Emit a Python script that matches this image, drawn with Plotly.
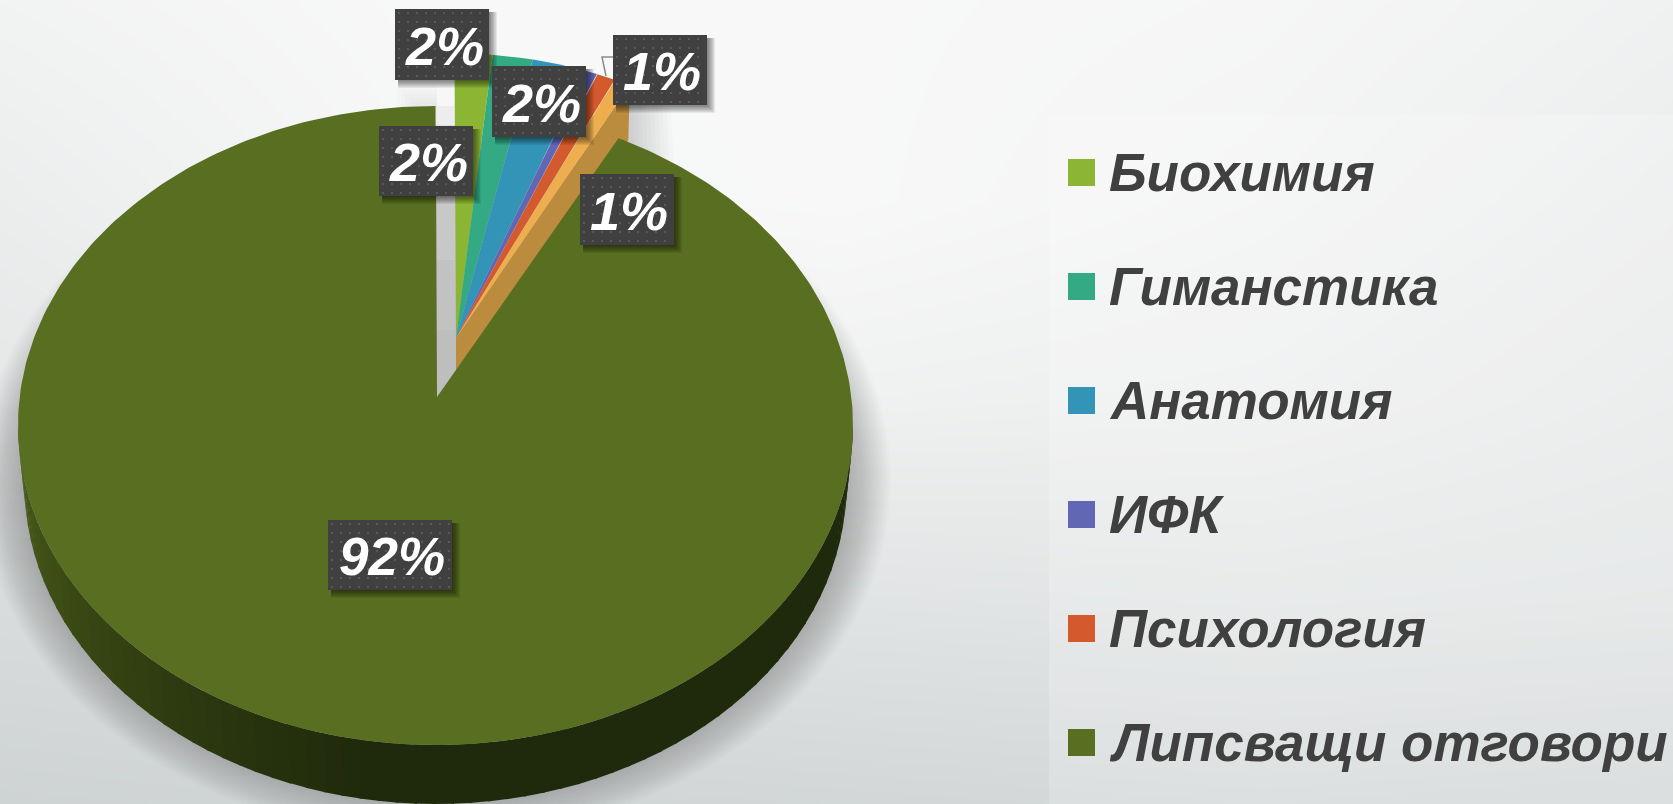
import math
import plotly.graph_objects as go

# ---- data ----
categories = ["Биохимия", "Гиманстика", "Анатомия", "ИФК", "Психология", "(без етикет)", "Липсващи отговори"]
values = [1.6, 1.7, 2.3, 0.5, 0.8, 0.7, 92.4]
pct_labels = ["2%", "2%", "2%", "1%", "1%", None, "92%"]
in_legend = [True, True, True, True, True, False, True]
colors = ["#8DB534", "#33A984", "#3494B8", "#6166B5", "#D4592C", "#EEAE4E", "#586E20"]

# ---- geometry and style ----
W, H = 1673, 804
BIG = dict(ax=437, ay=397, cx=435.5, cy=425.5, rx=417.5, ry=319.5)
SMALL = dict(ax=456, ay=338, cx=454.5, cy=366.5, rx=400, ry=313)
FORESHORTEN = 0.95
DEPTH = 59
WALL_ORANGE = "#BB8B3E"
LABEL_BG = "#404040"
TEXT = "#404040"
FONT = "Liberation Sans"
label_boxes = [(395, 9, 94, 71), (492, 66, 94, 71), (379, 126, 94, 70), (613, 35, 94, 70), (580, 174, 94, 71), None, (328, 520, 124, 70)]
label_sizes = [54, 54, 54, 54, 54, None, 53]
bg_x = [0, 420, 840, 1260, 1673]
bg_y = [0, 200, 400, 600, 804]
bg_z = [[242, 248, 248, 246, 240],
        [236, 246, 248, 243, 236],
        [230, 236, 240, 238, 232],
        [218, 222, 226, 228, 226],
        [208, 210, 212, 214, 212]]

fig = go.Figure()


def poly(xs, ys, color, name=None):
    fig.add_trace(go.Scatter(x=xs, y=ys, mode="lines", fill="toself", fillcolor=color,
                             line=dict(width=0), hoverinfo="skip" if name is None else "text",
                             text=name, showlegend=False))


def rim(g, t0, t1, n=120, grow=0.0, dy=0.0):
    ts = [t0 + (t1 - t0) * i / n for i in range(n + 1)]
    return ([g["cx"] + (g["rx"] + grow) * math.sin(t) for t in ts],
            [g["cy"] + dy - (g["ry"] + grow) * math.cos(t) for t in ts])


def mix(a, b, f):
    return "rgb(%d,%d,%d)" % tuple(a[i] + (b[i] - a[i]) * f for i in range(3))


# background
fig.add_trace(go.Heatmap(x=bg_x, y=bg_y, z=bg_z, zsmooth="best", showscale=False, hoverinfo="skip",
                         colorscale=[[0, "rgb(203,208,209)"], [1, "rgb(250,250,250)"]], zmin=205, zmax=250))
# legend panel
poly([1049, W, W, 1049], [115, 115, H, H], "rgba(255,255,255,0.2)")

# angles from the values
total = sum(values)
angles = []
acc = 0.0
for v in values:
    a0 = acc / total * 2 * math.pi * FORESHORTEN
    acc += v
    a1 = acc / total * 2 * math.pi * FORESHORTEN
    angles.append((a0, a1))
big_start = angles[-1][0]
big_end = 2 * math.pi

# soft shadow below the pie
for grow in range(44, -2, -2):
    x, y = rim(BIG, 0, 2 * math.pi, 180, grow=grow - 6, dy=DEPTH - 4)
    poly(x, y, "rgba(40,44,46,0.014)")
# soft shadow behind the wedge wall
for grow in range(40, 0, -4):
    poly([600, 630 + grow, 630 + grow * 1.1, 600], [108 - grow / 3, 108 - grow / 3, 150 + grow / 3, 175 + grow / 3],
         "rgba(0,0,0,0.014)")
for grow in range(20, 0, -4):
    poly([417 - grow, 437, 437, 417 - grow], [106 - grow, 106 - grow, 170, 170], "rgba(0,0,0,0.012)")

# side wall of the big slice, painted in strips
LOWER = dict(BIG, rx=411)
left = (78, 98, 28)
right = (31, 41, 11)
N = 70
for i in range(N):
    t0 = math.pi / 2 + math.pi * i / N
    t1 = math.pi / 2 + math.pi * (i + 1.15) / N
    xu, yu = rim(BIG, t0, t1, 3)
    xl, yl = rim(LOWER, t1, t0, 3, dy=DEPTH)
    poly(xu + xl, yu + yl, mix(left, right, min(1, (N - 1 - i) / (N * 0.45)) ** 0.8))

# grey cut face of the big slice
grey_stops = [106, 125, 150, 190, 260, 330]
grey_cols = ["#EDEDED", "#DEDEDE", "#D0D0D0", "#C8C8C8", "#C2C2C2", "#BEBEBE"]
for j, top in enumerate(grey_stops):
    bottom = grey_stops[j + 1] if j + 1 < len(grey_stops) else 400
    poly([437, 456.5, 456.5, 437], [top, top, min(bottom, 370), min(bottom, 397)], grey_cols[j])
poly([437, 456.5, 456.5], [397, 370, 330], "#BEBEBE")

# orange cut wall of the small slices
ex, ey = rim(SMALL, angles[5][1], angles[5][1], 1)
poly([SMALL["ax"], ex[0], ex[0] - 1.5, SMALL["ax"]], [SMALL["ay"], ey[0], 140, 370], WALL_ORANGE)

# leader line
fig.add_trace(go.Scatter(x=[613, 602, 606], y=[57, 57, 76], mode="lines", hoverinfo="skip", showlegend=False,
                         line=dict(color="#8A8A8A", width=1.5)))

# small slices
for k in range(6):
    x, y = rim(SMALL, angles[k][0], angles[k][1], 30)
    poly([SMALL["ax"]] + x + [SMALL["ax"]], [SMALL["ay"]] + y + [SMALL["ay"]], colors[k],
         name="%s: %s" % (categories[k], values[k]))

# big slice
x, y = rim(BIG, big_start, big_end, 360)
poly([BIG["ax"]] + x + [BIG["ax"]], [BIG["ay"]] + y + [BIG["ay"]], colors[6], name="%s: %s" % (categories[6], values[6]))

# data labels: box, shadow, stipple and real text
annos = []
dot_x, dot_y = [], []
for k, lab in enumerate(pct_labels):
    if lab is None:
        continue
    bx, by, bw, bh = label_boxes[k]
    for s in range(8, 0, -1):
        poly([bx + 3, bx + bw + s, bx + bw + s, bx + 3], [by + 3, by + 3, by + bh + s, by + bh + s], "rgba(0,0,0,0.07)")
    poly([bx, bx + bw, bx + bw, bx], [by, by, by + bh, by + bh], LABEL_BG)
    px = bx + 4
    while px < bx + bw:
        py = by + 4
        while py < by + bh:
            dot_x.append(px)
            dot_y.append(py)
            py += 9
        px += 9
    annos.append(dict(x=bx + bw / 2 + 2, y=by + bh / 2 + 1, text=lab, showarrow=False, xanchor="center", yanchor="middle",
                      font=dict(family=FONT, size=label_sizes[k], color="white", style="italic", weight="bold")))
fig.add_trace(go.Scatter(x=dot_x, y=dot_y, mode="markers", hoverinfo="skip", showlegend=False,
                         marker=dict(symbol="square", size=2, color="rgba(255,255,255,0.13)", line=dict(width=0))))

# legend
row = 0
for k, name in enumerate(categories):
    if not in_legend[k]:
        continue
    yc = 172.5 + 114 * row
    fig.add_trace(go.Scatter(x=[1081.5], y=[yc], mode="markers", hoverinfo="skip", showlegend=False,
                             marker=dict(symbol="square", size=27, color=colors[k], line=dict(width=0))))
    annos.append(dict(x=1107, y=yc, text=name, showarrow=False, xanchor="left", yanchor="middle",
                      font=dict(family=FONT, size=53, color=TEXT, style="italic", weight="bold")))
    row += 1

fig.update_layout(width=W, height=H, margin=dict(l=0, r=0, t=0, b=0), paper_bgcolor="#EEEEEE", plot_bgcolor="#EEEEEE",
                  showlegend=False, annotations=annos,
                  xaxis=dict(range=[0, W], visible=False, fixedrange=True),
                  yaxis=dict(range=[H, 0], visible=False, fixedrange=True))
fig.write_html("out.html", post_script="document.body.style.margin='0';document.body.style.overflow='hidden';",
               config=dict(displayModeBar=False))
